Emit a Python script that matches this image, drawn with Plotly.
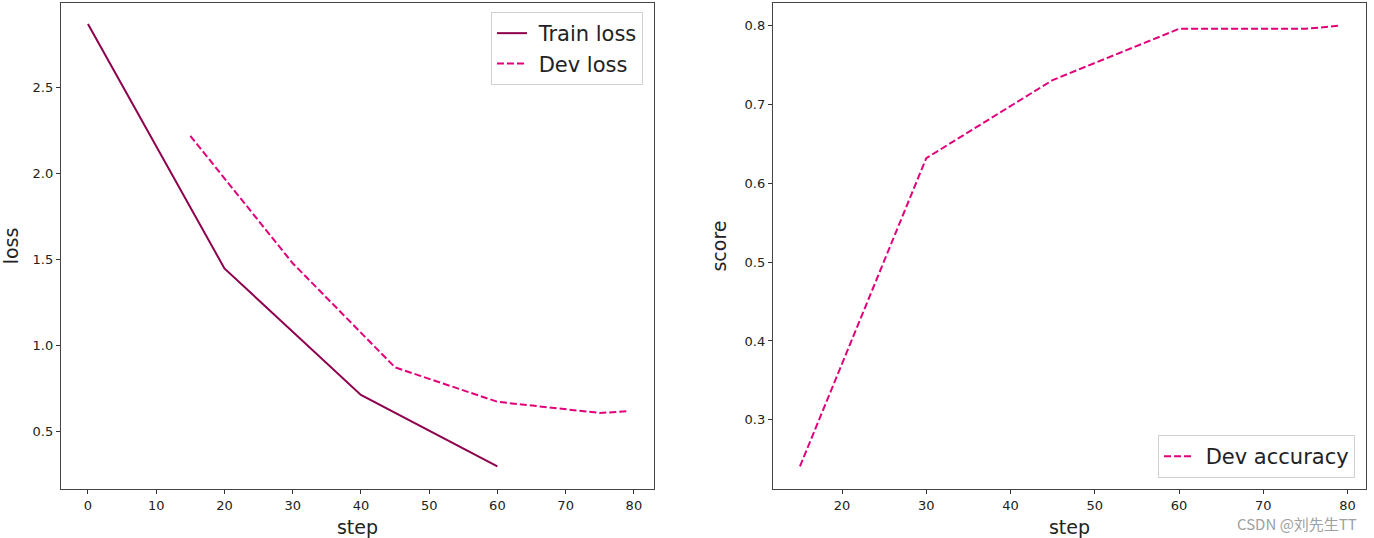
import plotly.graph_objects as go

train_steps = [0, 20, 40, 60]
train_loss = [2.87, 1.45, 0.715, 0.30]
dev_steps = [15, 30, 45, 60, 75, 79]
dev_loss = [2.22, 1.48, 0.875, 0.675, 0.61, 0.62]
dev_acc = [0.241, 0.632, 0.731, 0.796, 0.796, 0.80]

TRAIN_COLOR = "#8E004D"
DEV_COLOR = "#E20079"
FONT = "DejaVu Sans"

fig = go.Figure()
fig.add_trace(go.Scatter(x=train_steps, y=train_loss, mode="lines", name="\u00a0Train loss",
                         line=dict(color=TRAIN_COLOR, width=2), xaxis="x", yaxis="y",
                         legend="legend"))
fig.add_trace(go.Scatter(x=dev_steps, y=dev_loss, mode="lines", name="\u00a0Dev loss",
                         line=dict(color=DEV_COLOR, width=2, dash="7px,3px"), xaxis="x", yaxis="y",
                         legend="legend"))
fig.add_trace(go.Scatter(x=dev_steps, y=dev_acc, mode="lines", name="\u00a0Dev accuracy",
                         line=dict(color=DEV_COLOR, width=2, dash="7px,3px"), xaxis="x2", yaxis="y2",
                         legend="legend2"))

W, H = 1374, 538
def px_x(p): return p / W
def px_y(p): return 1 - p / H

axis_common = dict(showgrid=False, zeroline=False, showline=True, linecolor="#444444", linewidth=1.3,
                   mirror=True, ticks="outside", ticklen=4, tickcolor="#333333",
                   tickfont=dict(family=FONT, size=13, color="#222222"))

title_font = dict(size=19, family=FONT, color="#222222")

fig.update_layout(
    width=W, height=H,
    margin=dict(l=0, r=0, t=0, b=0),
    paper_bgcolor="white", plot_bgcolor="white",
    font=dict(family=FONT, color="#222222"),
    xaxis=dict(domain=[px_x(61), px_x(654)], range=[-3.95, 82.95], tickvals=list(range(0, 81, 10)),
               title=dict(text="step", font=title_font, standoff=9), anchor="y", **axis_common),
    yaxis=dict(domain=[px_y(489), px_y(3)], range=[0.1685, 2.9915], tickvals=[0.5, 1.0, 1.5, 2.0, 2.5],
               tickformat=".1f", title=dict(text="loss", font=title_font, standoff=12),
               anchor="x", **axis_common),
    xaxis2=dict(domain=[px_x(773), px_x(1366)], range=[11.8, 82.2], tickvals=list(range(20, 81, 10)),
                title=dict(text="step", font=title_font, standoff=9), anchor="y2", **axis_common),
    yaxis2=dict(domain=[px_y(489), px_y(3)], range=[0.2122, 0.8288], tickvals=[0.3, 0.4, 0.5, 0.6, 0.7, 0.8],
                tickformat=".1f", title=dict(text="score", font=title_font, standoff=12),
                anchor="x2", **axis_common),
    legend=dict(x=px_x(643), y=px_y(12), xanchor="right", yanchor="top",
                bgcolor="rgba(255,255,255,0.9)", bordercolor="#d0d0d0", borderwidth=1,
                font=dict(family=FONT, size=21, color="#222222")),
    legend2=dict(x=px_x(1355), y=px_y(478), xanchor="right", yanchor="bottom",
                 bgcolor="rgba(255,255,255,0.9)", bordercolor="#d0d0d0", borderwidth=1,
                 font=dict(family=FONT, size=21, color="#222222")),
    showlegend=True,
    annotations=[dict(text="CSDN @刘先生TT", x=px_x(1359), y=px_y(523), xref="paper", yref="paper",
                      xanchor="right", yanchor="middle", showarrow=False,
                      font=dict(family="Noto Sans CJK SC", size=15, color="#a0a0a0"))],
)

fig.write_html("out.html")
